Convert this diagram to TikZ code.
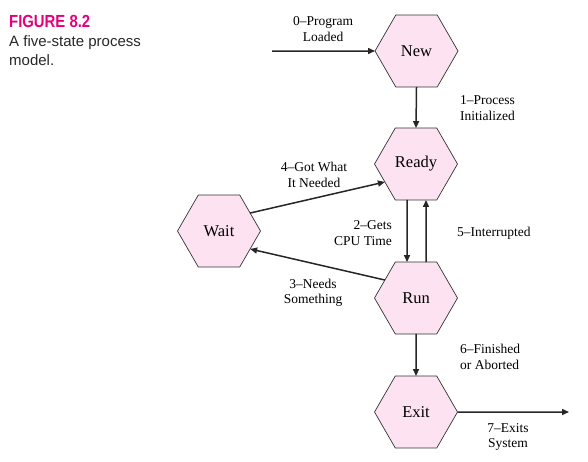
\documentclass[tikz,border=0pt]{standalone}
\usepackage{fontspec}
\setmainfont{Liberation Serif}
\newfontfamily\titlefont[FakeStretch=0.85]{Liberation Sans}
\newfontfamily\capfont{Liberation Sans}
\usetikzlibrary{shapes.geometric,arrows.meta}
\definecolor{hexfill}{HTML}{FDE3F1}
\definecolor{figmag}{HTML}{E6007E}
\definecolor{capgray}{HTML}{2A2627}
\tikzset{
  state/.style={regular polygon, regular polygon sides=6, minimum size=83pt,
    inner sep=0pt, outer sep=0pt, draw=black!80, line width=0.7pt, fill=hexfill,
    font=\fontsize{16.5}{19}\selectfont},
  lbl/.style={align=center, inner sep=0pt, font=\fontsize{13.5}{15.5}\selectfont},
  conn/.style={line width=1.5pt, draw=black!85, -{Triangle[length=7pt,width=6pt]}}
}
\begin{document}
\begin{tikzpicture}[x=1pt,y=-1pt]
\useasboundingbox (0,0) rectangle (588,461);
% caption
\node[anchor=base west, inner sep=0pt, text=figmag, font=\titlefont\bfseries\fontsize{17.5}{20}\selectfont] (fig) at (9,27.5) {FIGURE 8.2};
\node[anchor=north west, inner sep=0pt, align=left, text=capgray, font=\capfont\fontsize{15}{19}\selectfont] (cap) at (9,35) {A five-state process\\model.};
% states
\node[state] (new) at (416.5,51) {New};
\node[state] (ready) at (416,164) {Ready};
\node[state] (wait) at (219,231) {Wait};
\node[state] (run) at (416,298) {Run};
\node[state] (exit) at (416,412) {Exit};
\coordinate (start) at (272,51);
\coordinate (out) at (569,412);
% connectors
\draw[conn] (start) -- (new.west);
\draw[conn] (new.south) -- (ready.north);
\draw[conn] ([xshift=-9pt]ready.south) -- ([xshift=-9pt]run.north);
\draw[conn] ([xshift=10pt]run.north) -- ([xshift=10pt]ready.south);
\draw[conn] (wait.30) -- (ready.210);
\draw[conn] (run.150) -- (wait.330);
\draw[conn] (run.south) -- (exit.north);
\draw[conn] (exit.east) -- (out);
% labels
\node[lbl] (l0) at (323,29) {0--Program\\Loaded};
\node[lbl, align=left, anchor=west] (l1) at (460,108) {1--Process\\Initialized};
\node[lbl] (l4) at (314,175) {4--Got What\\It Needed};
\node[lbl, align=right, anchor=east] (l2) at (392,233) {2--Gets\\CPU Time};
\node[lbl, anchor=west] (l5) at (457,233) {5--Interrupted};
\node[lbl] (l3) at (313,293) {3--Needs\\Something};
\node[lbl, align=left, anchor=west] (l6) at (460,357) {6--Finished\\or Aborted};
\node[lbl] (l7) at (508,437) {7--Exits\\System};
\end{tikzpicture}
\end{document}
